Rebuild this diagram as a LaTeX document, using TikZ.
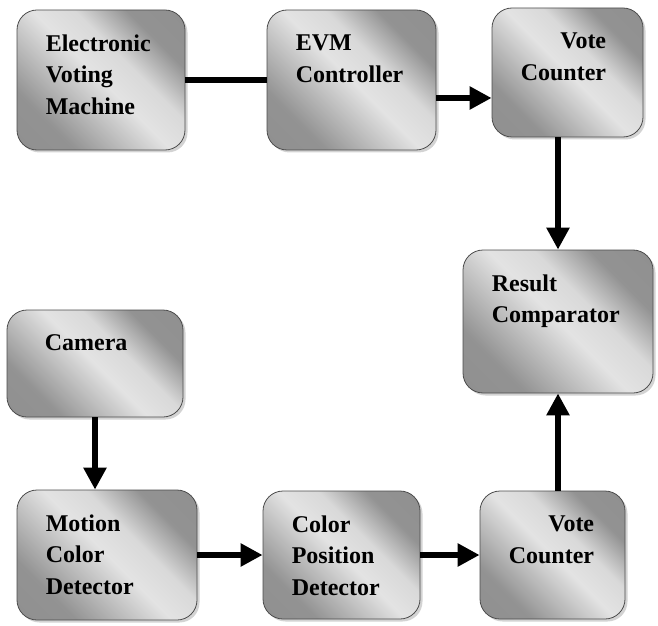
\documentclass[tikz,border=0pt]{standalone}
\usepackage{fontspec}
\setmainfont{Liberation Serif}[BoldFont={Liberation Serif Bold}]
\usetikzlibrary{arrows.meta,shadows}
\pgfdeclarehorizontalshading{boxshade}{100bp}{color(0bp)=(gray!90);color(28bp)=(gray!85);color(50bp)=(gray!22);color(60bp)=(gray!30);color(72bp)=(gray!85);color(100bp)=(gray!90)}
\tikzset{
blk/.style={draw=gray!60!black,line width=0.8pt,rounded corners=20pt,shading=boxshade,shading angle=45,
 drop shadow={shadow xshift=2.5pt,shadow yshift=-2.5pt,opacity=0.35},inner sep=0pt},
txt/.style={anchor=north west,inner sep=0pt,xshift=29pt,yshift=-25pt,align=left,
 font=\rmfamily\bfseries\fontsize{24}{31.5}\selectfont},
con/.style={line width=6pt},
arr/.style={line width=6pt,-{Triangle[length=22pt,width=22pt]}}
}
\begin{document}
\begin{tikzpicture}[x=1pt,y=1pt]
\useasboundingbox (0,0) rectangle (658,625);
\node [blk,minimum width=168pt,minimum height=140pt,label={[txt]north west:Electronic\\Voting\\Machine}] (evm) at (101,545) {};
\node [blk,minimum width=169pt,minimum height=140pt,label={[txt]north west:EVM\\Controller}] (evmc) at (351.5,545) {};
\node [blk,minimum width=151pt,minimum height=129pt,label={[txt,align=right]north west:Vote\\Counter}] (vote1) at (567.5,552.5) {};
\node [blk,minimum width=190pt,minimum height=143pt,label={[txt]north west:Result\\Comparator}] (result) at (558,303.5) {};
\node [blk,minimum width=176pt,minimum height=107pt,label={[txt,xshift=9pt]north west:Camera}] (camera) at (95,261.5) {};
\node [blk,minimum width=180pt,minimum height=130pt,label={[txt]north west:Motion\\Color\\Detector}] (motion) at (107,70) {};
\node [blk,minimum width=157pt,minimum height=128pt,label={[txt]north west:Color\\Position\\Detector}] (cpd) at (341.5,70) {};
\node [blk,minimum width=145pt,minimum height=128pt,label={[txt,align=right]north west:Vote\\Counter}] (vote2) at (552.5,70) {};
\draw [con] (evm.east) -- (evm.east -| evmc.west);
\draw [arr] ([yshift=-18pt]evmc.east) -- ([yshift=-18pt]evmc.east -| vote1.west);
\draw [arr] (vote1.south -| result.north) -- (result.north);
\draw [arr] (camera.south) -- (camera.south |- motion.north);
\draw [arr] (motion.east) -- (motion.east -| cpd.west);
\draw [arr] (cpd.east) -- (cpd.east -| vote2.west);
\draw [arr] (vote2.north -| result.south) -- (result.south);
\end{tikzpicture}
\end{document}
